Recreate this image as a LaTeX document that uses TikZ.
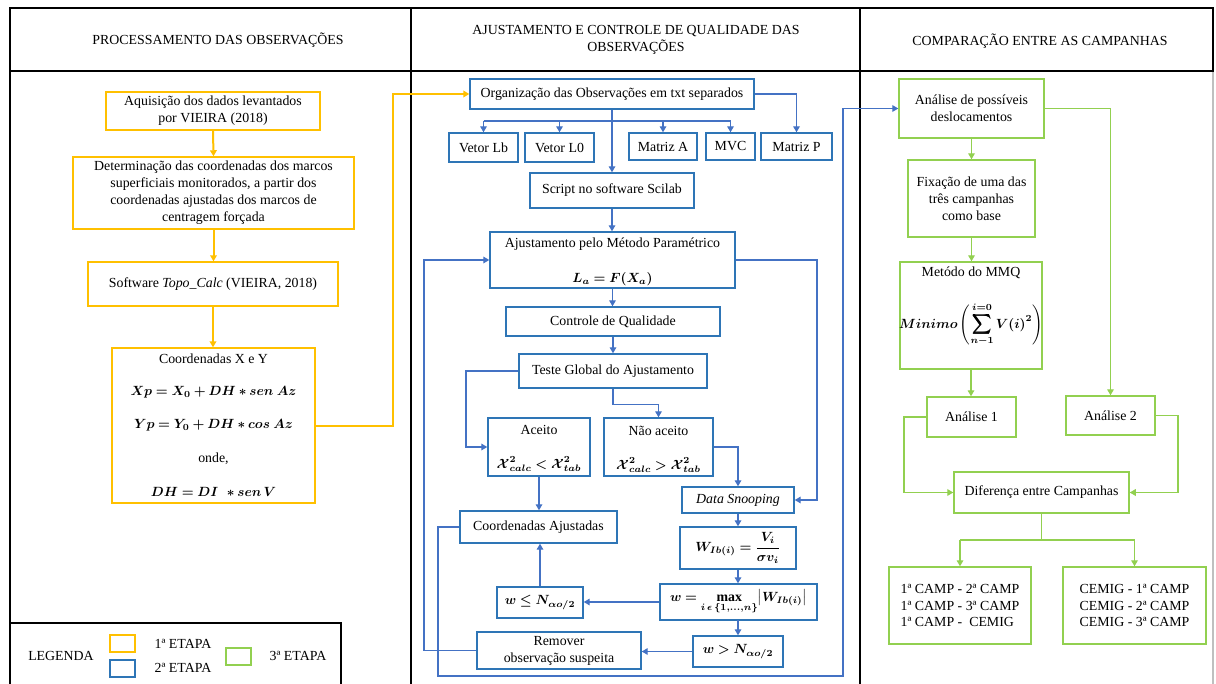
\documentclass[tikz,border=0pt]{standalone}
\usepackage{amsmath,bm}
\usepackage{fontspec}
\setmainfont{Liberation Serif}
\usetikzlibrary{arrows.meta,calc}
\definecolor{cOr}{HTML}{FFC000}
\definecolor{cBl}{HTML}{4472C4}
\definecolor{cBx}{HTML}{2E75B6}
\definecolor{cGr}{HTML}{92D050}
\newcommand\PX{0.75pt}
\begin{document}
\begin{tikzpicture}[x=0.75pt,y=-0.75pt, font=\fontsize{10.4}{12.7}\selectfont,
 box/.style={draw, line width=1.1pt, inner sep=0pt, align=center},
 obox/.style={box, draw=cOr},
 bbox/.style={box, draw=cBx},
 gbox/.style={box, draw=cGr},
 tip/.style={-{Triangle[width=5pt,length=4.5pt]}},
 ocon/.style={draw=cOr, line width=1.5pt},
 bcon/.style={draw=cBl, line width=0.9pt},
 gcon/.style={draw=cGr, line width=0.9pt},
 frame/.style={draw=black, line width=2.2pt},
 txt/.style={inner sep=0pt, align=center},
 sq/.style={draw, line width=1pt}
]
\useasboundingbox (0,0) rectangle (1216,684);
% frame
\draw[frame] (9,8) -- (1214,8);
\draw[frame] (10,71) -- (1213,71);
\draw[frame] (10,8) -- (10,690);
\draw[frame] (411,8) -- (411,690);
\draw[frame] (860,8) -- (860,690);
\draw[frame] (1213,8) -- (1213,72);
\draw[gray!50, line width=0.8pt] (1213,72) -- (1213,690);
% headers
\node[txt] (h1) at (218,40) {PROCESSAMENTO DAS OBSERVAÇÕES};
\node[txt] (h2) at (636,40) {AJUSTAMENTO E CONTROLE DE QUALIDADE DAS\\OBSERVAÇÕES};
\node[txt] (h3) at (1040,41) {COMPARAÇÃO ENTRE AS CAMPANHAS};
% legend
\draw[black, line width=0.8pt] (10,623) rectangle (341,690);
\node[txt] (lg) at (61,656) {LEGENDA};
\draw[sq, cOr] (110,635) rectangle (135,652);
\draw[sq, cBx] (110,660) rectangle (135,677);
\draw[sq, cGr] (226,648) rectangle (251,665);
\node[txt] (l1) at (183,644) {1ª ETAPA};
\node[txt] (l2) at (183,668) {2ª ETAPA};
\node[txt] (l3) at (298,656) {3ª ETAPA};
% ---- column 1
\node[obox, minimum width=214*\PX, minimum height=38*\PX] (a1) at (213,111) {Aquisição dos dados levantados\\por VIEIRA (2018)};
\node[obox, minimum width=281*\PX, minimum height=72*\PX] (a2) at (213.5,193) {Determinação das coordenadas dos marcos\\superficiais monitorados, a partir dos\\coordenadas ajustadas dos marcos de\\centragem forçada};
\node[obox, minimum width=250*\PX, minimum height=44*\PX] (a3) at (213,284) {Software \textit{Topo\_Calc} (VIEIRA, 2018)};
\node[obox, minimum width=203*\PX, minimum height=155*\PX] (a4) at (213.5,425.5) {};
\node[txt] (a4t1) at (213.5,359) {Coordenadas X e Y};
\node[txt] (a4t2) at (213.5,392) {$\bm{Xp = X_0 + DH * sen\ Az}$};
\node[txt] (a4t3) at (213.5,425) {$\bm{Yp = Y_0 + DH * cos\ Az}$};
\node[txt] (a4t4) at (213.5,459) {onde,};
\node[txt] (a4t5) at (213.5,492) {$\bm{DH = DI\ \,* sen\,V}$};
\draw[ocon, tip] (a1.south) -- (a2.north);
\draw[ocon, tip] (a2.south) -- (a2.south |- a3.north);
\draw[ocon, tip] (a3.south) -- (a3.south |- a4.north);
% ---- column 2
\node[bbox, minimum width=284*\PX, minimum height=30*\PX] (org) at (612,94) {Organização das Observações em txt separados};
\draw[ocon, tip] (a4.east) -| (393,94) -- (org.west);
\node[bbox, minimum width=69*\PX, minimum height=29*\PX] (vlb) at (483.5,147.5) {Vetor Lb};
\node[bbox, minimum width=69*\PX, minimum height=29*\PX] (vl0) at (559.5,147.5) {Vetor L0};
\node[bbox, minimum width=68*\PX, minimum height=27*\PX] (ma) at (663,146.5) {Matriz A};
\node[bbox, minimum width=49*\PX, minimum height=27*\PX] (mvc) at (730.5,146.5) {MVC};
\node[bbox, minimum width=71*\PX, minimum height=27*\PX] (mp) at (796.5,146.5) {Matriz P};
\node[bbox, minimum width=164*\PX, minimum height=35*\PX] (scr) at (612,190.5) {Script no software Scilab};
\node[bbox, minimum width=245*\PX, minimum height=56*\PX] (aj) at (612.5,260) {};
\node[txt] (ajt1) at (612.5,244) {Ajustamento pelo Método Paramétrico};
\node[txt] (ajt2) at (612.5,279) {$\bm{L_a = F(X_a)}$};
\node[bbox, minimum width=214*\PX, minimum height=29*\PX] (ctl) at (613,321.5) {Controle de Qualidade};
\node[bbox, minimum width=188*\PX, minimum height=34*\PX] (tg) at (613,371) {Teste Global do Ajustamento};
\node[bbox, minimum width=102*\PX, minimum height=58*\PX] (ac) at (539,447) {};
\node[txt] (act1) at (539,430) {Aceito};
\node[txt] (act2) at (539,464) {$\bm{\mathcal{X}^2_{calc} < \mathcal{X}^2_{tab}}$};
\node[bbox, minimum width=109*\PX, minimum height=58*\PX] (na) at (658.5,447) {};
\node[txt] (nat1) at (658.5,431) {Não aceito};
\node[txt] (nat2) at (658.5,465) {$\bm{\mathcal{X}^2_{calc} > \mathcal{X}^2_{tab}}$};
\node[bbox, minimum width=112*\PX, minimum height=26*\PX] (ds) at (738,500) {\textit{Data Snooping}};
\node[bbox, minimum width=157*\PX, minimum height=32*\PX] (ca) at (538.5,527) {Coordenadas Ajustadas};
\node[bbox, minimum width=116*\PX, minimum height=42*\PX] (w) at (738,548) {$\bm{W_{Ib(i)} = \dfrac{V_i}{\sigma v_i}}$};
\node[bbox, minimum width=157*\PX, minimum height=36*\PX] (mx) at (738.5,602) {$\bm{w = \max\limits_{i\,\epsilon\,\{1,\dots,n\}}\bigl|W_{Ib(i)}\bigr|}$};
\node[bbox, minimum width=86*\PX, minimum height=31*\PX] (wl) at (540,602.5) {$\bm{w \le N_{\alpha o/2}}$};
\node[bbox, minimum width=90*\PX, minimum height=31*\PX] (wg) at (738,651.5) {$\bm{w > N_{\alpha o/2}}$};
\node[bbox, minimum width=164*\PX, minimum height=37*\PX] (rm) at (559,650.5) {Remover\\observação suspeita};
% column 2 connectors
\coordinate (br) at (612,121);
\draw[bcon] (org.south) -- (br);
\draw[bcon] (br -| vlb.north) -- (br -| mvc.north);
\draw[bcon, tip] (br -| vlb.north) -- (vlb.north);
\draw[bcon, tip] (br -| vl0.north) -- (vl0.north);
\draw[bcon, tip] (br -| ma.north) -- (ma.north);
\draw[bcon, tip] (br -| mvc.north) -- (mvc.north);
\draw[bcon, tip] (br) -- (scr.north);
\draw[bcon, tip] (org.east) -| (mp.north);
\draw[bcon, tip] (scr.south) -- (scr.south |- aj.north);
\draw[bcon, tip] (aj.south) -- (aj.south |- ctl.north);
\draw[bcon, tip] (ctl.south) -- (tg.north);
\draw[bcon, tip] (tg.west) -| (466,447) -- (ac.west);
\draw[bcon, tip] (tg.south) -- ++(0,16) -| (na.north);
\draw[bcon, tip] (na.east) -| (ds.north);
\draw[bcon, tip] (aj.east) -| (817,500) -- (ds.east);
\draw[bcon, tip] (ac.south) -- (ac.south |- ca.north);
\draw[bcon, tip] (ds.south) -- (w.north);
\draw[bcon, tip] (w.south) -- (w.south |- mx.north);
\draw[bcon, tip] (mx.west) -- (mx.west -| wl.east);
\draw[bcon, tip] (wl.north) -- (wl.north |- ca.south);
\draw[bcon, tip] (mx.south) -- (mx.south -| wg.north) -- (wg.north);
\draw[bcon, tip] (wg.west) -- (wg.west -| rm.east);
\draw[bcon, tip] (rm.west) -| (424,260) -- (aj.west);
% ---- column 3
\node[gbox, minimum width=145*\PX, minimum height=59*\PX] (an) at (971.5,108.5) {Análise de possíveis\\deslocamentos};
\draw[bcon, tip] (ca.west) -| (438,676) -| (843,108.5) -- (an.west);
\node[gbox, minimum width=127*\PX, minimum height=77*\PX] (fx) at (971.5,198.5) {Fixação de uma das\\três campanhas\\como base};
\node[gbox, minimum width=142*\PX, minimum height=107*\PX] (mm) at (971,315.5) {};
\node[txt] (mmt1) at (971,273) {Metódo do MMQ};
\node[txt] (mmt2) at (971,325) {$\displaystyle\bm{Minimo\left(\sum_{n-1}^{i=0} V(i)^2\right)}$};
\node[gbox, minimum width=89*\PX, minimum height=40*\PX] (an1) at (971.5,417) {Análise 1};
\node[gbox, minimum width=89*\PX, minimum height=39*\PX] (an2) at (1110.5,415.5) {Análise 2};
\node[gbox, minimum width=175*\PX, minimum height=41*\PX] (df) at (1041.5,492.5) {Diferença entre Campanhas};
\node[gbox, minimum width=142*\PX, minimum height=77*\PX, align=left] (bl) at (960,605.5) {1ª CAMP - 2ª CAMP\\1ª CAMP - 3ª CAMP\\1ª CAMP - \ CEMIG};
\node[gbox, minimum width=143*\PX, minimum height=77*\PX, align=left] (brx) at (1134.5,605.5) {CEMIG - 1ª CAMP\\CEMIG - 2ª CAMP\\CEMIG - 3ª CAMP};
\draw[gcon, tip] (an.south) -- (an.south |- fx.north);
\draw[gcon, tip] (fx.south) -- (fx.south |- mm.north);
\draw[gcon, tip] (mm.south) -- (mm.south |- an1.north);
\draw[gcon, tip] (an.east) -| (an2.north);
\draw[gcon, tip] (an1.west) -| (904,492.5) -- (df.west);
\draw[gcon, tip] (an2.east) -| (1178,492.5) -- (df.east);
\coordinate (sp) at (1041.5,540);
\draw[gcon] (df.south) -- (sp);
\draw[gcon] (sp -| bl.north) -- (sp -| brx.north);
\draw[gcon, tip] (sp -| bl.north) -- (bl.north);
\draw[gcon, tip] (sp -| brx.north) -- (brx.north);
\end{tikzpicture}
\end{document}
